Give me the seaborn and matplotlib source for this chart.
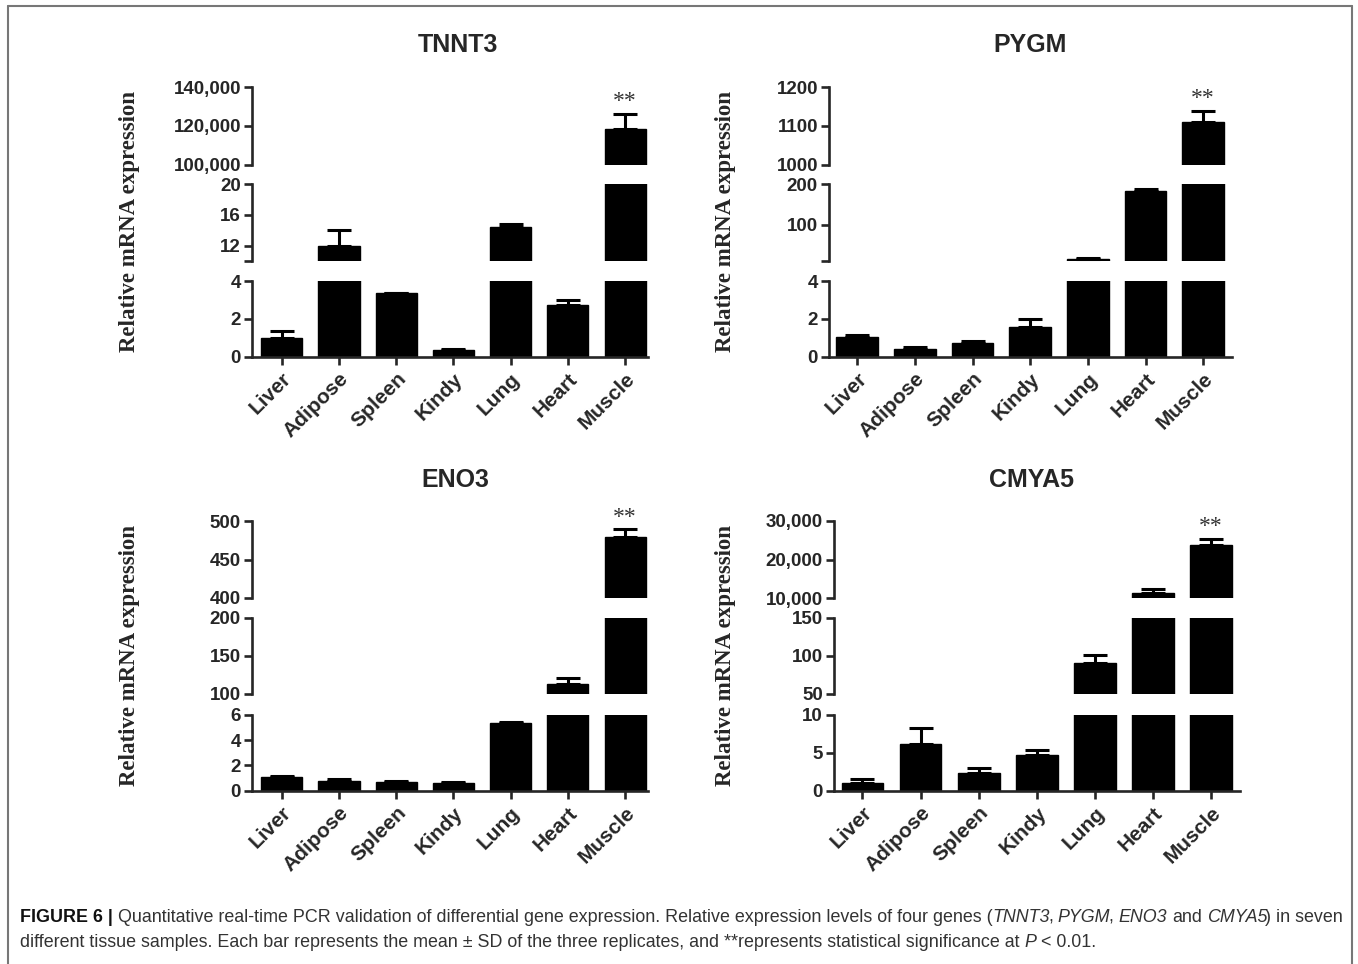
import numpy as np
import pandas as pd
import matplotlib
matplotlib.use("Agg")
import matplotlib.pyplot as plt
from matplotlib.lines import Line2D
import seaborn as sns

W, H = 1358, 964

tissues = ["Liver", "Adipose", "Spleen", "Kindy", "Lung", "Heart", "Muscle"]

# mean and SD (upper error only)
tnnt3_mean = [1.0, 11.9, 3.34, 0.38, 14.4, 2.72, 118500]
tnnt3_sd = [0.37, 2.1, 0.04, 0.04, 0.45, 0.28, 7600]
pygm_mean = [1.02, 0.41, 0.71, 1.59, 16, 184, 1111]
pygm_sd = [0.13, 0.12, 0.12, 0.4, 0.5, 5, 28]
eno3_mean = [1.05, 0.8, 0.71, 0.63, 5.32, 112.8, 479.5]
eno3_sd = [0.08, 0.12, 0.03, 0.03, 0.12, 7.6, 9.5]
cmya5_mean = [1.05, 6.14, 2.28, 4.65, 91, 11200, 23800]
cmya5_sd = [0.45, 2.06, 0.75, 0.7, 10.5, 1100, 1460]

# broken y axis: (bottom, middle, top) segments
tnnt3_ranges = [(0, 4), (10, 20), (100000, 140000)]
tnnt3_ticks = [[0, 2, 4], [10, 12, 16, 20], [100000, 120000, 140000]]
tnnt3_labels = [["0", "2", "4"], ["", "12", "16", "20"], ["100,000", "120,000", "140,000"]]
pygm_ranges = [(0, 4), (10, 200), (1000, 1200)]
pygm_ticks = [[0, 2, 4], [10, 100, 200], [1000, 1100, 1200]]
pygm_labels = [["0", "2", "4"], ["", "100", "200"], ["1000", "1100", "1200"]]
eno3_ranges = [(0, 6), (100, 200), (400, 500)]
eno3_ticks = [[0, 2, 4, 6], [100, 150, 200], [400, 450, 500]]
eno3_labels = [["0", "2", "4", "6"], ["100", "150", "200"], ["400", "450", "500"]]
cmya5_ranges = [(0, 10), (50, 150), (10000, 30000)]
cmya5_ticks = [[0, 5, 10], [50, 100, 150], [10000, 20000, 30000]]
cmya5_labels = [["0", "5", "10"], ["50", "100", "150"], ["10,000", "20,000", "30,000"]]

sns.set_style("ticks")
plt.rcParams["font.family"] = ["Liberation Sans", "DejaVu Sans"]

fig = plt.figure(figsize=(W / 100, H / 100), dpi=100)
fig.patch.set_facecolor("white")

row_top = [(281, 356.7), (184.3, 261), (87.3, 164.7)]
row_bot = [(714.7, 790.7), (618, 693.7), (521, 598)]

panels = [
    ("TNNT3", tnnt3_mean, tnnt3_sd, tnnt3_ranges, tnnt3_ticks, tnnt3_labels,
     252, 648, row_top, (-0.52, 6.4), (458, 45), 130),
    ("PYGM", pygm_mean, pygm_sd, pygm_ranges, pygm_ticks, pygm_labels,
     829, 1232, row_top, (-0.49, 6.5), (1030, 45), 725),
    ("ENO3", eno3_mean, eno3_sd, eno3_ranges, eno3_ticks, eno3_labels,
     252, 648, row_bot, (-0.52, 6.4), (455, 480), 130),
    ("CMYA5", cmya5_mean, cmya5_sd, cmya5_ranges, cmya5_ticks, cmya5_labels,
     834, 1240, row_bot, (-0.49, 6.5), (1032, 480), 725),
]

LW = 1.9
for name, mean, sd, ranges, ticks, labels, x0, x1, rows, xlim, tpos, ylx in panels:
    df = pd.DataFrame({"tissue": tissues, "value": mean})
    for i, ((yt, yb), rng) in enumerate(zip(rows, ranges)):
        ax = fig.add_axes([x0 / W, 1 - yb / H, (x1 - x0) / W, (yb - yt) / H])
        sns.barplot(data=df, x="tissue", y="value", color="black", width=0.72,
                    errorbar=None, edgecolor="black", linewidth=1, ax=ax)
        # upward-only SD bars; capsize is half the cap length
        ax.errorbar(range(len(tissues)), mean, yerr=[np.zeros(len(mean)), sd],
                    fmt="none", ecolor="black", elinewidth=2.2, capsize=8.5,
                    capthick=2.2)
        ax.set_xlim(*xlim)
        ax.set_ylim(*rng)
        ax.set_xlabel("")
        ax.set_ylabel("")
        ax.set_facecolor("none")
        ax.set_yticks(ticks[i], labels[i], fontweight="bold", fontsize=13.5)
        ax.tick_params(axis="y", length=6, width=LW, pad=2)
        for s in ["top", "right"]:
            ax.spines[s].set_visible(False)
        ax.spines["left"].set_linewidth(LW)
        if i == 0:
            ax.spines["bottom"].set_linewidth(LW)
            ax.set_xticks(range(len(tissues)), tissues, rotation=45, ha="right",
                          rotation_mode="anchor", fontweight="bold", fontsize=15)
            ax.tick_params(axis="x", length=6, width=LW, pad=3)
        else:
            ax.spines["bottom"].set_visible(False)
            ax.set_xticks([])
        if i == 2:
            ax.annotate("**", xy=(6, mean[6] + sd[6]), xytext=(0, 5),
                        textcoords="offset points", ha="center", va="baseline",
                        family=["Liberation Serif"], fontsize=17, color="#333333",
                        annotation_clip=False)
    fig.text(tpos[0] / W, 1 - tpos[1] / H, name, ha="center", va="center",
             fontweight="bold", fontsize=18)
    yc = (rows[2][0] + rows[0][1]) / 2
    fig.text(ylx / W, 1 - yc / H, "Relative mRNA expression", rotation=90,
             ha="center", va="center", family=["Liberation Serif"],
             fontweight="bold", fontsize=16.5)

# frame lines of the figure page
for xs, ys in [([8, 8], [6, H]), ([8, 1352], [6, 6]), ([1352, 1352], [6, H])]:
    fig.add_artist(Line2D([x / W for x in xs], [1 - y / H for y in ys],
                          color="#777777", lw=1.5))

# caption with mixed styles
renderer = fig.canvas.get_renderer()
line1 = [
    ("FIGURE 6 |", {"fontweight": "bold", "color": "#111111"}, True),
    ("Quantitative real-time PCR validation of differential gene expression. "
     "Relative expression levels of four genes (", {}, False),
    ("TNNT3", {"style": "italic"}, False),
    (",", {}, True),
    ("PYGM", {"style": "italic"}, False),
    (",", {}, True),
    ("ENO3", {"style": "italic"}, True),
    ("and", {}, True),
    ("CMYA5", {"style": "italic"}, False),
    (") in seven", {}, False),
]
line2 = [
    ("different tissue samples. Each bar represents the mean \u00b1 SD of the three "
     "replicates, and **represents statistical significance at", {}, True),
    ("P", {"style": "italic"}, True),
    ("< 0.01.", {}, False),
]


def draw_runs(runs, x0, y, size):
    sp1 = fig.text(0, 0, "n n", fontsize=size)
    sp2 = fig.text(0, 0, "nn", fontsize=size)
    space = sp1.get_window_extent(renderer).width - sp2.get_window_extent(renderer).width
    sp1.remove()
    sp2.remove()
    x = x0
    arts = []
    for txt, kw, gap in runs:
        kw = dict(kw)
        kw.setdefault("color", "#333333")
        t = fig.text(x / W, 1 - y / H, txt, fontsize=size, ha="left",
                     va="baseline", **kw)
        arts.append(t)
        x = t.get_window_extent(renderer).x1 + (space if gap else 0)
        if kw.get("style") == "italic" and not gap:
            x -= 2
    return arts, x


size = 12
arts, xend = draw_runs(line1, 20, 922, size)
for a in arts:
    a.remove()
size = size * (1338 - 20) / (xend - 20)
draw_runs(line1, 20, 922, size)
draw_runs(line2, 20, 947, size)

fig.savefig("out.png", dpi=100, facecolor="white")
